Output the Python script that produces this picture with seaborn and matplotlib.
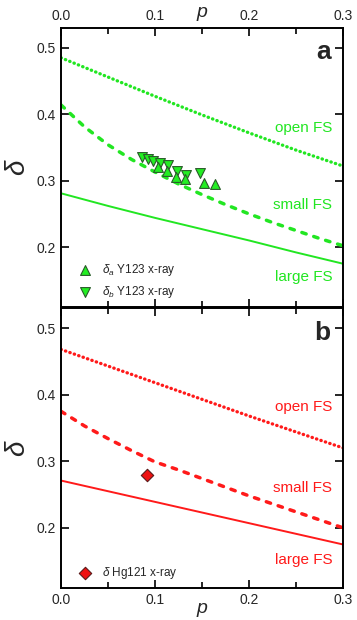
import pandas as pd
import matplotlib
matplotlib.use('Agg')
import matplotlib.pyplot as plt
from matplotlib.ticker import FormatStrFormatter
import seaborn as sns

# doping grids for the model curves
p_grid = [0.0, 0.05, 0.10, 0.15, 0.20, 0.25, 0.30]
p_fine = [0.0, 0.025, 0.05, 0.075, 0.10, 0.125, 0.15, 0.175, 0.20, 0.225, 0.25, 0.275, 0.30]

# panel a (Y123) model curves
open_a = [0.485, 0.456, 0.427, 0.399, 0.372, 0.346, 0.322]
small_a = [0.414, 0.381, 0.354, 0.332, 0.313, 0.295, 0.279, 0.264, 0.250, 0.237, 0.225, 0.213, 0.202]
large_a = [0.281, 0.262, 0.244, 0.227, 0.210, 0.192, 0.175]

# panel b (Hg121) model curves
open_b = [0.468, 0.443, 0.418, 0.393, 0.368, 0.344, 0.320]
small_b = [0.375, 0.353, 0.334, 0.316, 0.299, 0.287, 0.274, 0.261, 0.248, 0.236, 0.224, 0.212, 0.200]
large_b = [0.271, 0.255, 0.239, 0.223, 0.207, 0.191, 0.175]

# x-ray data
pa_Y123 = [0.103, 0.113, 0.122, 0.132, 0.152, 0.164]
da_Y123 = [0.320, 0.315, 0.306, 0.302, 0.297, 0.295]
pb_Y123 = [0.086, 0.092, 0.098, 0.105, 0.114, 0.123, 0.133, 0.148]
db_Y123 = [0.335, 0.333, 0.329, 0.326, 0.323, 0.314, 0.308, 0.311]
p_Hg121 = [0.091]
d_Hg121 = [0.279]

# label heights (in delta units)
label_y_a = [0.380, 0.264, 0.155]
label_y_b = [0.381, 0.260, 0.151]

sns.set_style('ticks')
plt.rcParams['font.family'] = ['Liberation Sans', 'DejaVu Sans']
plt.rcParams['mathtext.fontset'] = 'custom'
plt.rcParams['mathtext.rm'] = 'Liberation Sans'
plt.rcParams['mathtext.it'] = 'Liberation Sans:italic'

green = '#22e622'
red = '#ff1a1a'

fig = plt.figure(figsize=(3.57, 6.2), dpi=100)
ax_a = fig.add_axes([0.171, 0.505, 0.790, 0.450])
ax_b = fig.add_axes([0.171, 0.052, 0.790, 0.451])

panels = [
    (ax_a, open_a, small_a, large_a, green, label_y_a, 'a'),
    (ax_b, open_b, small_b, large_b, red, label_y_b, 'b'),
]

for ax, o, s, l, c, ly, letter in panels:
    df = pd.DataFrame({'p': p_grid, 'open': o, 'large': l})
    df_s = pd.DataFrame({'p': p_fine, 'small': s})
    sns.lineplot(data=df, x='p', y='open', ax=ax, color=c, lw=2.4,
                 linestyle=(0, (0.1, 1.3)), dash_capstyle='round')
    sns.lineplot(data=df_s, x='p', y='small', ax=ax, color=c, lw=2.5,
                 linestyle=(0, (1.3, 2.3)), dash_capstyle='round')
    sns.lineplot(data=df, x='p', y='large', ax=ax, color=c, lw=1.4)

    ax.set_xlim(0, 0.3)
    ax.set_ylim(0.11, 0.53)
    ax.set_xticks([0.0, 0.1, 0.2, 0.3])
    ax.set_xticks([0.05, 0.15, 0.25], minor=True)
    ax.set_yticks([0.2, 0.3, 0.4, 0.5])
    ax.xaxis.set_major_formatter(FormatStrFormatter('%.1f'))
    ax.yaxis.set_major_formatter(FormatStrFormatter('%.1f'))
    ax.tick_params(which='both', direction='in', top=True, right=True,
                   labelsize=10, width=1.2, color='black')
    ax.tick_params(which='major', length=6)
    ax.tick_params(which='minor', length=4)
    for sp in ax.spines.values():
        sp.set_linewidth(1.4)
        sp.set_color('black')
    ax.set_ylabel(r'$\delta$', fontsize=20, labelpad=4)

    for name, y in zip(['open FS', 'small FS', 'large FS'], ly):
        ax.text(0.2885, y, name, color=c, fontsize=11, ha='right', va='center')
    ax.text(0.955, 0.955, letter, transform=ax.transAxes, fontsize=19,
            fontweight='bold', ha='right', va='top')

# data points
sns.scatterplot(x=pa_Y123, y=da_Y123, ax=ax_a, marker='^', s=50, color='#22ee22',
                edgecolor='#2a5a2a', linewidth=0.8, zorder=5,
                label=r'$\delta_a$ Y123 x-ray')
sns.scatterplot(x=pb_Y123, y=db_Y123, ax=ax_a, marker='v', s=50, color='#22ee22',
                edgecolor='#2a5a2a', linewidth=0.8, zorder=4,
                label=r'$\delta_b$ Y123 x-ray')
sns.scatterplot(x=p_Hg121, y=d_Hg121, ax=ax_b, marker='D', s=40, color='#ee1111',
                edgecolor='#5a1a1a', linewidth=0.8, zorder=5,
                label=r'$\delta$ Hg121 x-ray')

for ax in (ax_a, ax_b):
    ax.legend(loc='lower left', frameon=False, fontsize=8.5, handletextpad=0.4,
              borderaxespad=0.15, labelspacing=0.55, bbox_to_anchor=(0.02, 0.0))

ax_a.tick_params(axis='x', labeltop=True, labelbottom=False)
ax_a.xaxis.set_label_position('top')
ax_a.set_xlabel(r'$p$', fontsize=14, labelpad=-6)
ax_b.set_xlabel(r'$p$', fontsize=14, labelpad=-4)

fig.savefig('out.png', dpi=100)
